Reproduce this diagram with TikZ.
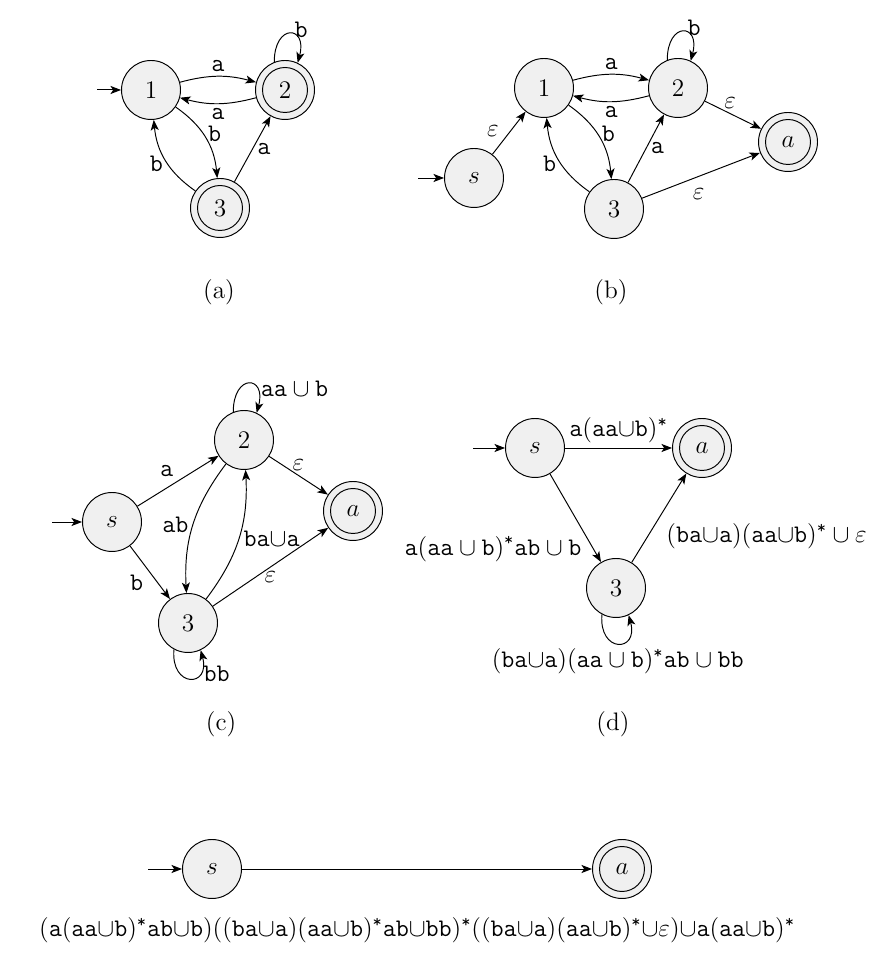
\documentclass[tikz,border=0pt]{standalone}
\usepackage{amsmath}
\usetikzlibrary{arrows.meta}
\newcommand{\tw}[1]{\mathtt{#1}}
\newcommand{\ucup}{{\cup}}
\newcommand{\kst}{^{\text{\ttfamily *}}}
\begin{document}
\begin{tikzpicture}[x=0.02cm,y=0.02cm,
  >={Stealth[length=6pt,width=4.6pt,inset=1.5pt]},
  state/.style={circle,draw,fill=gray!12,minimum size=1.18cm,inner sep=0pt,font=\Large,line width=0.55pt},
  accept/.style={state,path picture={\draw[line width=0.55pt] (path picture bounding box.center) circle (0.45cm);}},
  lbl/.style={font=\Large,inner sep=2.5pt},
  captxt/.style={font=\Large},
  tr/.style={->,line width=0.55pt},
  looptop/.style={out=90,in=75,distance=0.78cm},
  loopbot/.style={out=265,in=285,distance=0.78cm}]
\useasboundingbox (0,0) rectangle (891,972);

% ---------- (a)
\node[state]  (a1) at (151,882) {1};
\node[accept] (a2) at (285,882) {2};
\node[accept] (a3) at (220,764) {3};
\coordinate (a0) at (97,882);
\draw[tr] (a0) -- (a1);
\draw[tr] (a1) to[bend left=15] node[lbl,above] {$\tw{a}$} (a2);
\draw[tr] (a2) to[bend left=15] node[lbl,below] {$\tw{a}$} (a1);
\draw[tr] (a1) to[bend left=25] node[lbl,right,pos=0.45] {$\tw{b}$} (a3);
\draw[tr] (a3) to[bend left=25] node[lbl,left,pos=0.45] {$\tw{b}$} (a1);
\draw[tr] (a3) -- node[lbl,right] {$\tw{a}$} (a2);
\draw[tr] (a2.111) to[looptop] node[lbl,right,pos=0.5,yshift=2pt] {$\tw{b}$} (a2.65);
\node[captxt] (capa) at (219,680) {(a)};

% ---------- (b)
\node[state]  (bs) at (474,794) {$s$};
\node[state]  (b1) at (544,884) {1};
\node[state]  (b2) at (678,884) {2};
\node[state]  (b3) at (614,763) {3};
\node[accept] (ba) at (788,830) {$a$};
\coordinate (b0) at (418,794);
\draw[tr] (b0) -- (bs);
\draw[tr] (bs) -- node[lbl,left=4pt,pos=0.55] {$\varepsilon$} (b1);
\draw[tr] (b1) to[bend left=15] node[lbl,above] {$\tw{a}$} (b2);
\draw[tr] (b2) to[bend left=15] node[lbl,below] {$\tw{a}$} (b1);
\draw[tr] (b1) to[bend left=25] node[lbl,right,pos=0.45] {$\tw{b}$} (b3);
\draw[tr] (b3) to[bend left=25] node[lbl,left,pos=0.45] {$\tw{b}$} (b1);
\draw[tr] (b3) -- node[lbl,right] {$\tw{a}$} (b2);
\draw[tr] (b2.111) to[looptop] node[lbl,right,pos=0.5,yshift=2pt] {$\tw{b}$} (b2.65);
\draw[tr] (b2) -- node[lbl,above,pos=0.45] {$\varepsilon$} (ba);
\draw[tr] (b3) -- node[lbl,below=4pt,pos=0.48] {$\varepsilon$} (ba);
\node[captxt] (capb) at (611,680) {(b)};

% ---------- (c)
\node[state]  (cs) at (112,450) {$s$};
\node[state]  (c2) at (244,532) {2};
\node[state]  (c3) at (188,349) {3};
\node[accept] (ca) at (353,461) {$a$};
\coordinate (c0) at (52,450);
\draw[tr] (c0) -- (cs);
\draw[tr] (cs) -- node[lbl,above left] {$\tw{a}$} (c2);
\draw[tr] (cs) -- node[lbl,below left,pos=0.45] {$\tw{b}$} (c3);
\draw[tr] (c2) to[bend right=20] node[lbl,left] {$\tw{ab}$} (c3);
\draw[tr] (c3) to[bend right=20] node[lbl,right] {$\tw{ba}\ucup\tw{a}$} (c2);
\draw[tr] (c2) -- node[lbl,above] {$\varepsilon$} (ca);
\draw[tr] (c3) -- node[lbl,below] {$\varepsilon$} (ca);
\draw[tr] (c2.111) to[looptop] node[lbl,right,pos=0.7] {$\tw{aa}\cup\tw{b}$} (c2.65);
\draw[tr] (c3.242) to[loopbot] node[lbl,right,pos=0.7] {$\tw{bb}$} (c3.295);
\node[captxt] (capc) at (221,248) {(c)};

% ---------- (d)
\node[state]  (ds) at (535,524) {$s$};
\node[accept] (da) at (702,524) {$a$};
\node[state]  (d3) at (616,384) {3};
\coordinate (d0) at (473,524);
\draw[tr] (d0) -- (ds);
\draw[tr] (ds) -- node[lbl,above] {$\tw{a}(\tw{aa}\ucup\tw{b})\kst$} (da);
\draw[tr] (ds) -- node[lbl,left=4pt,pos=0.85] {$\tw{a}(\tw{aa}\cup\tw{b})\kst\tw{ab}\cup\tw{b}$} (d3);
\draw[tr] (d3) -- node[lbl,right=8pt,pos=0.29] {$(\tw{ba}\ucup\tw{a})(\tw{aa}\ucup\tw{b})\kst\cup\varepsilon$} (da);
\draw[tr] (d3.242) to[loopbot] node[lbl,below] {$(\tw{ba}\ucup\tw{a})(\tw{aa}\cup\tw{b})\kst\tw{ab}\cup\tw{bb}$} (d3.295);
\node[captxt] (capd) at (613,248) {(d)};

% ---------- (e)
\node[state]  (es) at (212,103) {$s$};
\node[accept] (ea) at (622,103) {$a$};
\coordinate (e0) at (148,103);
\draw[tr] (e0) -- (es);
\draw[tr] (es) -- node[lbl,below=25pt] {$(\tw{a}(\tw{aa}\ucup\tw{b})\kst\tw{ab}\ucup\tw{b})((\tw{ba}\ucup\tw{a})(\tw{aa}\ucup\tw{b})\kst\tw{ab}\ucup\tw{bb})\kst((\tw{ba}\ucup\tw{a})(\tw{aa}\ucup\tw{b})\kst\ucup\varepsilon)\ucup\tw{a}(\tw{aa}\ucup\tw{b})\kst$} (ea);
\end{tikzpicture}
\end{document}
